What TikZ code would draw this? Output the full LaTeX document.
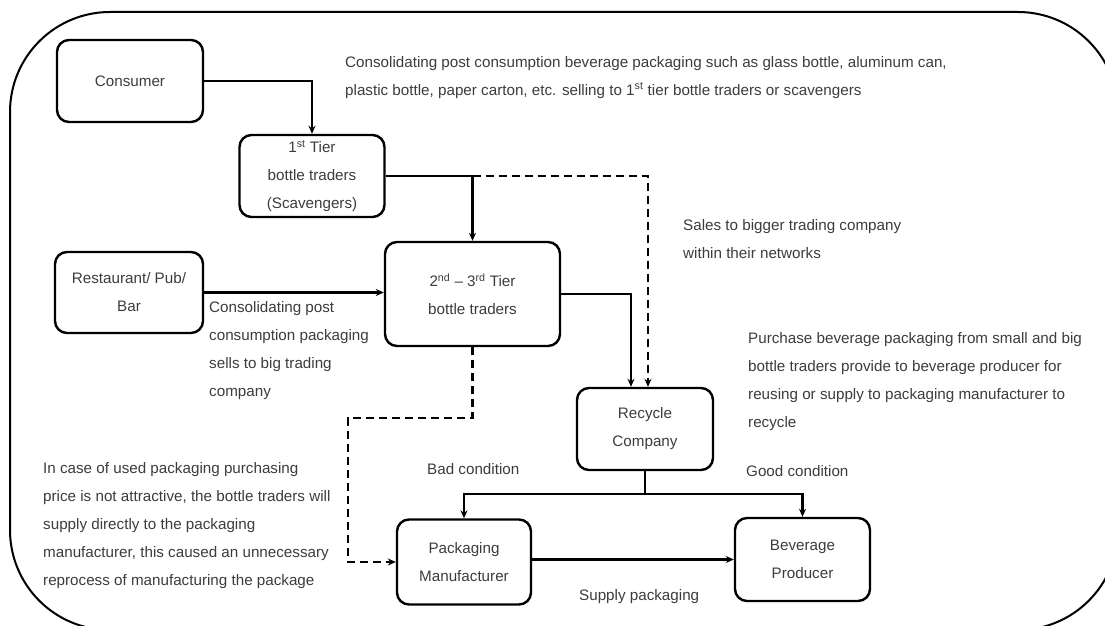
\documentclass[tikz,border=0pt]{standalone}
\usepackage{fontspec}
\setmainfont{Liberation Sans}
\usetikzlibrary{arrows.meta}
\definecolor{txt}{HTML}{3C3C3C}
\begin{document}
\begin{tikzpicture}[x=1pt,y=-1pt,
  font=\fontsize{15.2}{28}\selectfont,
  box/.style={draw=black,line width=2.4pt,rounded corners=12pt,
    minimum width=145pt,minimum height=85pt,align=center,text=txt,inner sep=0pt},
  link/.style={line width=2.3pt,-{Stealth[length=8pt,width=7pt]}},
  dlink/.style={link,dash pattern=on 8pt off 5pt},
  note/.style={anchor=base west,align=left,text=txt,inner sep=0pt}]
\useasboundingbox (0,0) rectangle (1105,626);
\clip (0,0) rectangle (1105,626);

% outer frame
\draw[line width=2pt,rounded corners=100pt] (10,12) rectangle (1118,630);

% stages of the collection chain
\node[box,minimum width=146pt,minimum height=82pt] (consumer) at (130,81) {Consumer};
\node[box,minimum height=82pt] (tier1) at (312,176) {1\textsuperscript{st} Tier\\bottle traders\\(Scavengers)};
\node[box,minimum width=175pt,minimum height=104pt] (tier23) at (472.5,294) {2\textsuperscript{nd} -- 3\textsuperscript{rd} Tier\\bottle traders};
\node[box,minimum width=148pt,minimum height=81pt] (rest) at (129,292.5) {Restaurant/ Pub/\\Bar};
\node[box,minimum width=136pt,minimum height=82pt] (recycle) at (645,429) {Recycle\\Company};
\node[box,minimum width=134pt,minimum height=85pt] (packman) at (464,562) {Packaging\\Manufacturer};
\node[box,minimum width=135pt,minimum height=83pt] (bev) at (802.5,559.5) {Beverage\\Producer};

% flows
\coordinate (fork) at (tier23.north |- tier1.east);
\coordinate (split) at ([yshift=-23pt]recycle.south);
\coordinate (dturn) at (348,418);

\draw[link] (consumer.east) -| (tier1.north);
\draw[link] (tier1.east) -| (tier23.north);
\draw[dlink] (fork) -| ([xshift=3pt]recycle.north);
\draw[link] (rest.east) -- (rest.east -| tier23.west);
\draw[link] (tier23.east) -| ([xshift=-14pt]recycle.north);
\draw[line width=2.3pt] (recycle.south) -- (split);
\draw[link] (split) -| (packman.north);
\draw[link] (split) -| (bev.north);
\draw[link] (packman.east |- bev.west) -- (bev.west);
\draw[dlink] (tier23.south) |- (dturn) |- (packman.west);

% explanatory notes (anchored on the baseline of their last line)
\node[note] (n1) at (345,95) {Consolidating post consumption beverage packaging such as glass bottle, aluminum can,\\plastic bottle, paper carton, etc. selling to 1\textsuperscript{st} tier bottle traders or scavengers};
\node[note] (n2) at (683,258) {Sales to bigger trading company\\within their networks};
\node[note] (n3) at (209,396) {Consolidating post\\consumption packaging\\sells to big trading\\company};
\node[note] (n4) at (748,427) {Purchase beverage packaging from small and big\\bottle traders provide to beverage producer for\\reusing or supply to packaging manufacturer to\\recycle};
\node[note] (n5) at (746,476) {Good condition};
\node[note] (n6) at (427,474) {Bad condition};
\node[note] (n7) at (579,600) {Supply packaging};
\node[note] (n8) at (43,585) {In case of used packaging purchasing\\price is not attractive, the bottle traders will\\supply directly to the packaging\\manufacturer, this caused an unnecessary\\reprocess of manufacturing the package};
\end{tikzpicture}
\end{document}
